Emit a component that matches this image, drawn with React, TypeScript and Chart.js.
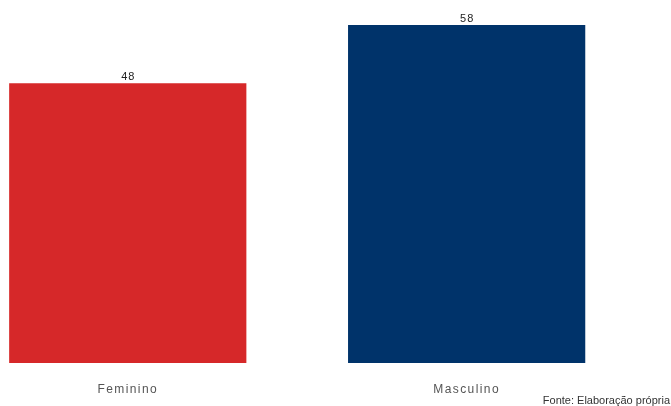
import React, { useEffect, useRef } from "react";
import { Chart, registerables } from "chart.js";

Chart.register(...registerables);

const categories = ["Feminino", "Masculino"];
const values = [48, 58];
const barColors = ["#d62829", "#00336a"];
const caption = "Fonte: Elaboração própria";

const FONT = "'Liberation Sans', Arial, sans-serif";

const spacingPlugin = {
  id: "spacing",
  beforeDraw(chart: any) {
    chart.ctx.letterSpacing = "1.4px";
  },
  afterDraw(chart: any) {
    chart.ctx.letterSpacing = "0px";
  },
};

const valueLabelPlugin = {
  id: "valueLabels",
  afterDatasetsDraw(chart: any) {
    const ctx = chart.ctx;
    const meta = chart.getDatasetMeta(0);
    ctx.save();
    ctx.letterSpacing = "1px";
    ctx.font = "11px " + FONT;
    ctx.fillStyle = "#222";
    ctx.textAlign = "center";
    ctx.textBaseline = "alphabetic";
    meta.data.forEach((bar: any, i: number) => {
      ctx.fillText(String(values[i]), bar.x + 0.5, bar.y - 3);
    });
    ctx.restore();
  },
};

const captionPlugin = {
  id: "caption",
  afterDraw(chart: any) {
    const ctx = chart.ctx;
    ctx.save();
    ctx.letterSpacing = "0px";
    ctx.font = "11px " + FONT;
    ctx.fillStyle = "#333";
    ctx.textAlign = "right";
    ctx.textBaseline = "middle";
    ctx.fillText(caption, chart.width - 1, chart.height - 5.5);
    ctx.restore();
  },
};

export default function App() {
  const ref = useRef<HTMLCanvasElement | null>(null);
  useEffect(() => {
    document.body.style.margin = "0";
    if (!ref.current) return;
    const chart = new Chart(ref.current, {
      type: "bar",
      data: {
        datasets: [
          {
            data: categories.map((c, i) => ({ x: i, y: values[i] })),
            backgroundColor: barColors,
            borderWidth: 0,
            barPercentage: 0.7,
            categoryPercentage: 1,
          },
        ],
      },
      options: {
        animation: false,
        responsive: false,
        layout: { padding: 0 },
        scales: {
          x: {
            type: "linear",
            offset: false,
            min: -0.377,
            max: 1.603,
            grid: { display: false, drawTicks: false, tickLength: 0, offset: false },
            border: { display: false },
            afterBuildTicks: (scale: any) => {
              scale.ticks = categories.map((_, i) => ({ value: i }));
            },
            afterFit: (scale: any) => {
              scale.height = 43;
            },
            ticks: {
              padding: 19,
              color: "#555",
              font: { family: FONT, size: 12 },
              callback: (v: any) => categories[v] ?? "",
            },
          },
          y: {
            display: false,
            min: 0,
            max: 62.3,
          },
        },
        plugins: {
          legend: { display: false },
          tooltip: { enabled: false },
          title: { display: false },
        },
      },
      plugins: [spacingPlugin, valueLabelPlugin, captionPlugin],
    } as any);
    return () => chart.destroy();
  }, []);
  return (
    <div style={{ position: "absolute", left: 0, top: 0, width: 671, height: 406 }}>
      <canvas ref={ref} width={671} height={406} style={{ width: 671, height: 406 }} />
    </div>
  );
}
